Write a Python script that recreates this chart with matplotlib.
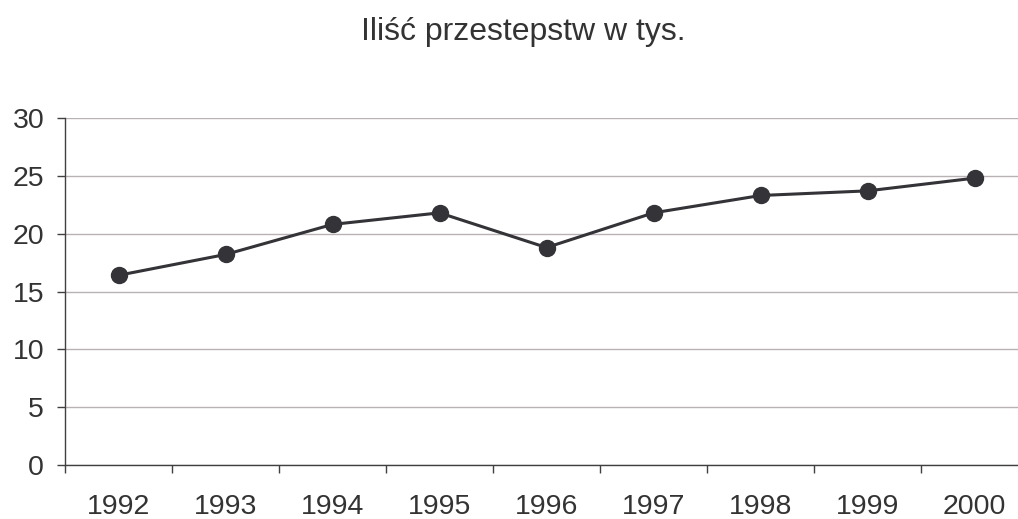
import matplotlib
matplotlib.use("Agg")
import matplotlib.pyplot as plt
import numpy as np

years = ["1992", "1993", "1994", "1995", "1996", "1997", "1998", "1999", "2000"]
values = [16.4, 18.2, 20.8, 21.8, 18.8, 21.8, 23.3, 23.7, 24.8]
yticks = [0, 5, 10, 15, 20, 25, 30]
title = "Iliść przestepstw w tys."

plt.rcParams['font.family'] = ['Liberation Sans', 'DejaVu Sans']
W, H = 1018, 519
fig = plt.figure(figsize=(W / 100, H / 100), dpi=100)
ax = fig.add_axes([65 / W, 1 - 465 / H, (1028 - 65) / W, (465 - 118) / H])

x = np.arange(len(years))
ax.plot(x, values, color='#333338', lw=2.2, marker='o', markersize=11.5, zorder=3, clip_on=False)

ax.set_xlim(-0.5, len(years) - 0.5)
ax.set_ylim(0, 30)
ax.set_yticks(yticks)
ax.set_yticklabels([str(t) for t in yticks])
ax.set_xticks(x)
ax.set_xticklabels(years)
ax.set_xticks(np.arange(len(years) + 1) - 0.5, minor=True)

ax.grid(axis='y', color='#b8b2b4', lw=1.0)
ax.set_axisbelow(True)
for s in ['top', 'right']:
    ax.spines[s].set_visible(False)
for s in ['left', 'bottom']:
    ax.spines[s].set_color('#404040')
    ax.spines[s].set_linewidth(1.0)

ax.tick_params(axis='y', length=6, width=1, color='#404040', pad=9, labelsize=20.5, labelcolor='#333333')
ax.tick_params(axis='x', which='major', length=0, pad=21, labelsize=20.5, labelcolor='#333333')
ax.tick_params(axis='x', which='minor', length=6, width=1, color='#404040')

fig.text(523 / W, 1 - 32 / H, title, ha='center', va='center', fontsize=23, color='#333333')

fig.savefig("out.png", dpi=100)
